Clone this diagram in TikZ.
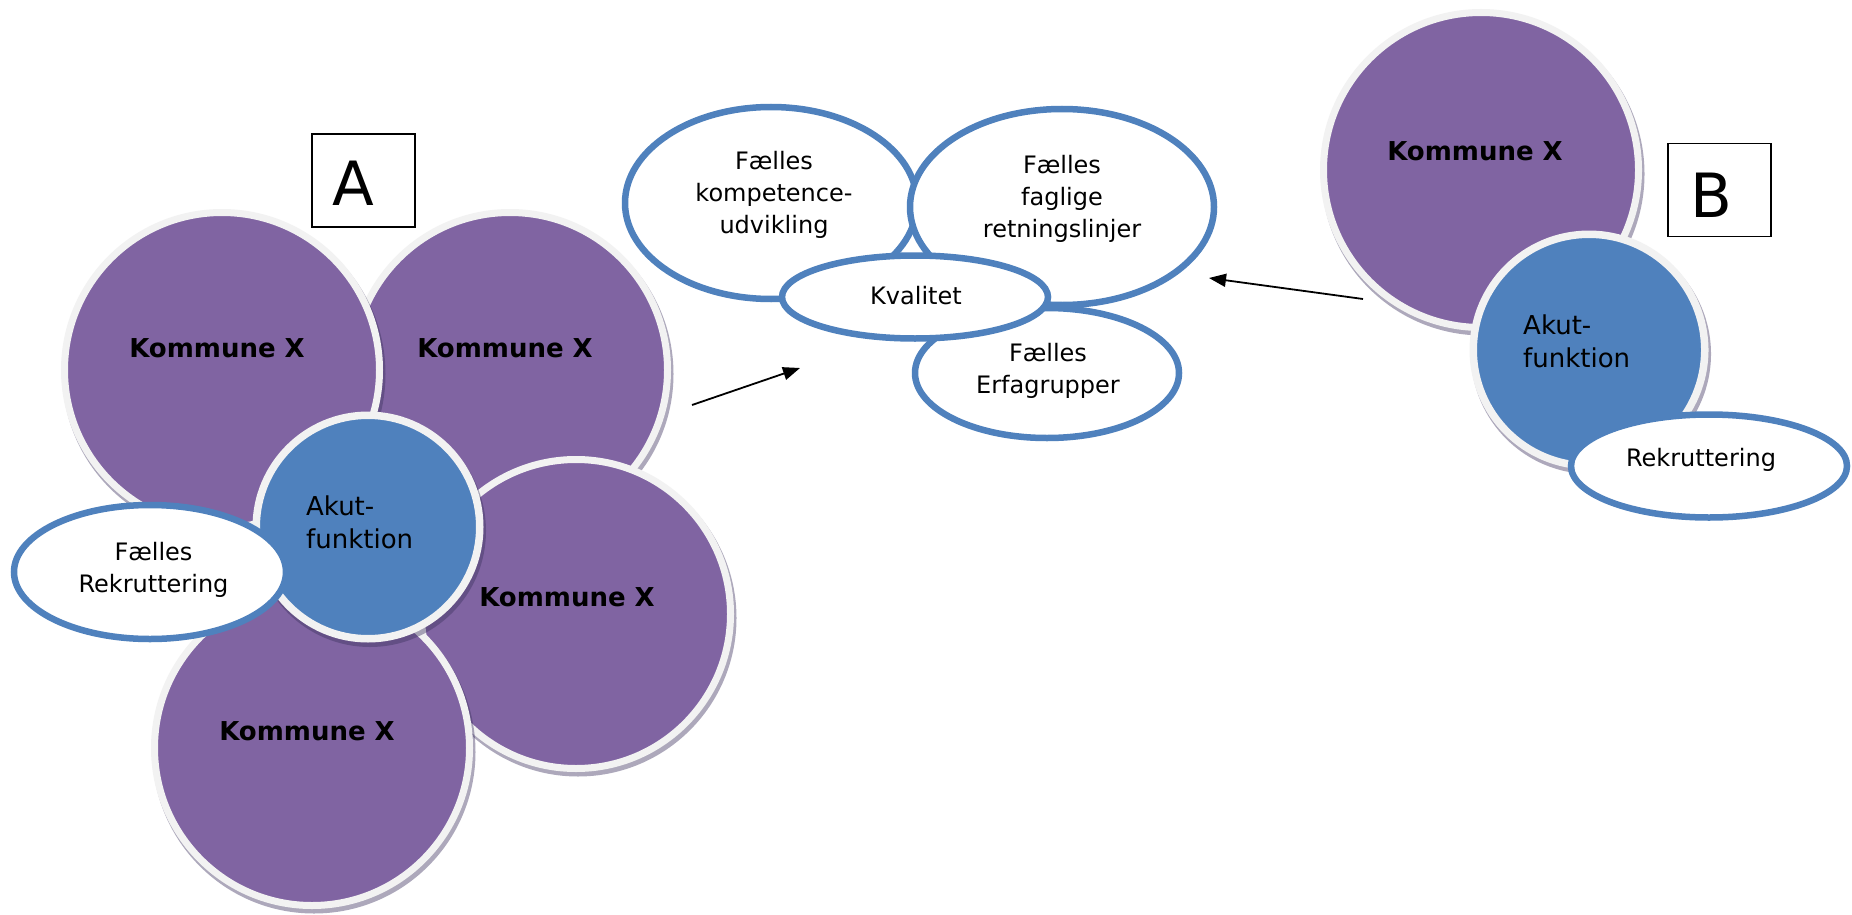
\documentclass[tikz,border=0pt]{standalone}
\usepackage{fontspec}
\setmainfont{DejaVu Sans}
\usetikzlibrary{shapes.geometric,arrows.meta}
\definecolor{kpurple}{HTML}{8064A2}
\definecolor{kblue}{HTML}{4F81BD}
\definecolor{ringc}{HTML}{F2F2F2}
\definecolor{shadc}{RGB}{60,50,95}
\tikzset{
  kom/.style={circle, fill=kpurple, draw=ringc, line width=7pt, inner sep=0pt, outer sep=0pt, minimum size=#1},
  akut/.style={circle, fill=kblue, draw=ringc, line width=7.5pt, inner sep=0pt, outer sep=0pt, minimum size=#1},
  oval/.style={ellipse, fill=white, draw=kblue, line width=6.5pt, inner sep=0pt, outer sep=0pt},
  shad/.style={fill=shadc, fill opacity=0.42},
  komtxt/.style={font=\fontsize{26pt}{33pt}\selectfont\bfseries, inner sep=0pt},
  akuttxt/.style={font=\fontsize{26pt}{33pt}\selectfont, align=left, inner sep=0pt, anchor=west},
  ovtxt/.style={font=\fontsize{24pt}{32pt}\selectfont, align=center, inner sep=0pt},
  lettbox/.style={draw=black, line width=1.6pt, inner sep=0pt, minimum width=103pt, minimum height=93pt},
  letter/.style={font=\fontsize{61pt}{61pt}\selectfont, inner sep=0pt, anchor=base},
  arr/.style={-{Triangle[length=17pt,width=13pt]}, line width=1.8pt, black},
}
\begin{document}
\begin{tikzpicture}[x=1pt,y=-1pt]
\useasboundingbox (0,0) rectangle (1852,915);
\fill[white] (0,0) rectangle (1852,915);

% ---------- cluster A ----------
\fill[shad] (512,374) circle[radius=161.5];
\node[kom=315pt] (k2) at (510,370) {};
\node[komtxt] (k2t) at (505,348.5) {Kommune X};

\fill[shad] (224,374) circle[radius=161.5];
\node[kom=315pt] (k1) at (222,370) {};
\node[komtxt] (k1t) at (217,348.5) {Kommune X};

\fill[shad] (578,618) circle[radius=158.5];
\node[kom=309pt] (k3) at (576,614) {};
\node[komtxt] (k3t) at (567,597.5) {Kommune X};

\fill[shad] (314,752) circle[radius=161.5];
\node[kom=315pt] (k4) at (312,748) {};
\node[komtxt] (k4t) at (307,731.5) {Kommune X};

\fill[shad] (370,531) circle[radius=116];
\node[akut=223.5pt] (a1) at (368,527) {};
\node[akuttxt] (a1t) at (306,522.6) {Akut-\\funktion};

\node[oval, minimum width=272pt, minimum height=134pt] (r1) at (150,572) {};
\node[ovtxt] (r1t) at (153.5,569.8) {Fælles\\Rekruttering};

\node[lettbox] (boxA) at (363.5,180.5) {};
\node[letter] (letA) at (353.5,205) {A};

% ---------- middle ----------
\node[oval, minimum width=292pt, minimum height=192pt] (e1) at (771,203) {};
\node[oval, minimum width=304pt, minimum height=196pt] (e2) at (1062,207) {};
\node[oval, minimum width=264pt, minimum height=130pt] (e3) at (1047,373) {};
\node[oval, minimum width=266pt, minimum height=83pt] (e4) at (915,297) {};
\node[ovtxt] (e1t) at (774,194.8) {Fælles\\kompetence-\\udvikling};
\node[ovtxt] (e2t) at (1062,198.8) {Fælles\\faglige\\retningslinjer};
\node[ovtxt] (e3t) at (1048,370.8) {Fælles\\Erfagrupper};
\node[ovtxt] (e4t) at (916,295.9) {Kvalitet};

% ---------- cluster B ----------
\fill[shad] (1483,174) circle[radius=161.5];
\node[kom=315pt] (k5) at (1481,170) {};
\node[komtxt] (k5t) at (1475,151.5) {Kommune X};

\fill[shad] (1591,354) circle[radius=120];
\node[akut=231.5pt] (a2) at (1589,350) {};
\node[akuttxt] (a2t) at (1523,341.6) {Akut-\\funktion};

\node[oval, minimum width=276pt, minimum height=103pt] (r2) at (1709,466) {};
\node[ovtxt] (r2t) at (1701,459.8) {Rekruttering};

\node[lettbox] (boxB) at (1719.5,190) {};
\node[letter] (letB) at (1711.5,217) {B};

% ---------- arrows ----------
\coordinate (a1s) at (692,405);
\coordinate (a1e) at (800,368);
\coordinate (a2s) at (1363,299);
\coordinate (a2e) at (1209,278);
\draw[arr] (a1s) -- (a1e);
\draw[arr] (a2s) -- (a2e);
\end{tikzpicture}
\end{document}
